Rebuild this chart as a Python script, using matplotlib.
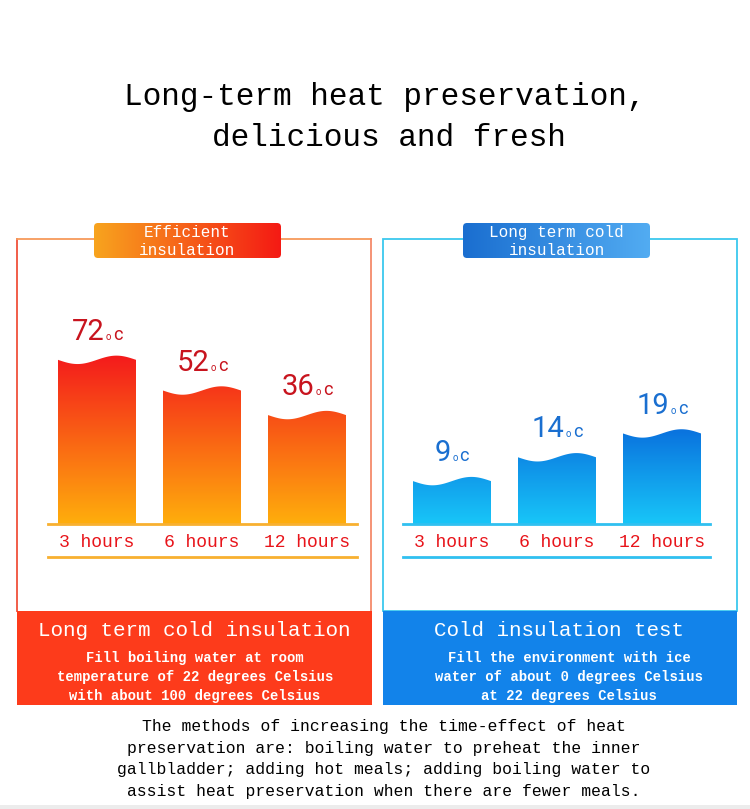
import numpy as np
import matplotlib
matplotlib.use("Agg")
import matplotlib.pyplot as plt
from matplotlib.patches import Rectangle, FancyBboxPatch, Polygon
from matplotlib.offsetbox import TextArea, HPacker, AnnotationBbox
from matplotlib.colors import LinearSegmentedColormap

# ---------------- data ----------------
hours = ["3 hours", "6 hours", "12 hours"]
hot_temps = [72, 52, 36]
cold_temps = [9, 14, 19]

title_lines = ["Long-term heat preservation,", "delicious and fresh"]
hot_header = ["Efficient", "insulation"]
cold_header = ["Long term cold", "insulation"]
hot_box_title = "Long term cold insulation"
hot_box_lines = ["Fill boiling water at room",
                 "temperature of 22 degrees Celsius",
                 "with about 100 degrees Celsius"]
cold_box_title = "Cold insulation test"
cold_box_lines = ["Fill the environment with ice",
                  "water of about 0 degrees Celsius",
                  "at 22 degrees Celsius"]
footer_lines = ["The methods of increasing the time-effect of heat",
                "preservation are: boiling water to preheat the inner",
                "gallbladder; adding hot meals; adding boiling water to",
                "assist heat preservation when there are fewer meals."]

MONO = ["Liberation Mono", "DejaVu Sans Mono"]
NUMF = ["Roboto", "DejaVu Sans"]
W, H = 750, 809
fig = plt.figure(figsize=(W / 100, H / 100), dpi=100)
fig.patch.set_facecolor("white")

bg = fig.add_axes([0, 0, 1, 1])
bg.set_xlim(0, W)
bg.set_ylim(H, 0)
bg.axis("off")


def hgrad(ax, x0, x1, y0, y1, c0, c1, clip):
    cm = LinearSegmentedColormap.from_list("g", [c0, c1])
    arr = np.linspace(0, 1, 256).reshape(1, -1)
    im = ax.imshow(arr, cmap=cm, extent=(x0, x1, y1, y0), aspect="auto",
                   interpolation="bicubic", zorder=3)
    im.set_clip_path(clip)


# Title
bg.text(385, 97, title_lines[0], ha="center", va="center", fontsize=22.4,
        family=MONO, color="black")
bg.text(389, 138, title_lines[1], ha="center", va="center", fontsize=22.4,
        family=MONO, color="black")

# Panel borders
bg.plot([17, 17], [239, 611], color="#f0503c", lw=1.3, zorder=1)
bg.plot([17, 371], [239, 239], color="#f79a5a", lw=1.3, zorder=1)
bg.plot([371, 371], [239, 611], color="#f58a6a", lw=1.3, zorder=1)
bg.add_patch(Rectangle((383, 239), 354, 372, fill=False, ec="#3cc8ee", lw=1.3, zorder=1))

# Header boxes
for (x0, x1, c0, c1, lines) in [(94, 281, "#f8a41e", "#f41a14", hot_header),
                                (463, 650, "#1a6ed0", "#52acf2", cold_header)]:
    box = FancyBboxPatch((x0, 223), x1 - x0, 35,
                         boxstyle="round,pad=0,rounding_size=4",
                         fc="white", ec="none", zorder=2)
    bg.add_patch(box)
    hgrad(bg, x0, x1, 223, 258, c0, c1, box)
    cx = (x0 + x1) / 2
    bg.text(cx, 232, lines[0], ha="center", va="center", fontsize=11.5,
            family=MONO, color="white", zorder=4)
    bg.text(cx, 250.5, lines[1], ha="center", va="center", fontsize=11.5,
            family=MONO, color="white", zorder=4)

# separator lines below the hour labels
bg.plot([48, 357], [557, 557], color="#f8b030", lw=2, zorder=2)
bg.plot([403, 710], [557, 557], color="#30c0f0", lw=2, zorder=2)

# Bottom coloured boxes
bg.add_patch(Rectangle((17, 611), 355, 94, fc="#fd3b1b", ec="none", zorder=2))
bg.add_patch(Rectangle((383, 611), 354, 94, fc="#1283ea", ec="none", zorder=2))
bg.text(194, 631, hot_box_title, ha="center", va="center", fontsize=15,
        family=MONO, color="white", zorder=4)
bg.text(559, 631, cold_box_title, ha="center", va="center", fontsize=15,
        family=MONO, color="white", zorder=4)
for i, (a, b) in enumerate(zip(hot_box_lines, cold_box_lines)):
    y = 658 + i * 18.8
    bg.text(195, y, a, ha="center", va="center", fontsize=10, weight="bold",
            family=MONO, color="white", zorder=4)
    bg.text(569, y, b, ha="center", va="center", fontsize=10, weight="bold",
            family=MONO, color="white", zorder=4)

# Footer text
for i, line in enumerate(footer_lines):
    bg.text(384, 727 + i * 21.4, line, ha="center", va="center", fontsize=11.8,
            family=MONO, color="black")

bg.add_patch(Rectangle((0, 805), W, 4, fc="#ececec", ec="none"))


# ---------------- bar panels ----------------
def panel(left_px, right_px, values, base, ymax, top_c, bot_c, line_c, num_c):
    top_px = 300
    base_px = 524
    ax = fig.add_axes([left_px / W, (H - base_px) / H,
                       (right_px - left_px) / W, (base_px - top_px) / H])
    ax.set_facecolor("none")
    x = np.arange(len(values))
    span = (right_px - left_px) / 105.0
    xl = -(49 / 105.0)
    xlim = (xl, xl + span)
    vals = np.asarray(values, dtype=float)
    bars = ax.bar(x, vals - base, bottom=base, width=78 / 105.0,
                  color="none", linewidth=0)
    amp = 4.2 / (base_px - top_px) * (ymax - base)
    cm = LinearSegmentedColormap.from_list("v", [top_c, bot_c])
    grad = np.linspace(0, 1, 256).reshape(-1, 1)
    gtop = vals.max() + amp
    for rect in bars:
        x0, w = rect.get_x(), rect.get_width()
        y0 = rect.get_y()
        top = y0 + rect.get_height()
        t = np.linspace(0, 1, 80)
        wave = top + amp * np.sin(2 * np.pi * (t - 0.5))
        pts = [(x0, y0)] + list(zip(x0 + w * t, wave)) + [(x0 + w, y0)]
        poly = Polygon(pts, closed=True, fc="none", ec="none",
                       transform=ax.transData)
        ax.add_patch(poly)
        im = ax.imshow(grad, cmap=cm, extent=(xlim[0], xlim[1], base, gtop),
                       aspect="auto", interpolation="bicubic", zorder=2)
        im.set_clip_path(poly)
        # value label
        num = TextArea(f"{int(round(top))}", textprops=dict(
            color=num_c, fontsize=21, family=NUMF))
        deg = TextArea("o", textprops=dict(color=num_c, fontsize=7, family=NUMF))
        cc = TextArea("c", textprops=dict(color=num_c, fontsize=13, family=NUMF))
        pack = HPacker(children=[num, deg, cc], align="baseline", pad=0, sep=1)
        ab = AnnotationBbox(pack, (x0 + w / 2, top), xycoords="data",
                            xybox=(0, 10), boxcoords="offset points",
                            box_alignment=(0.5, 0), frameon=False,
                            annotation_clip=False)
        ax.add_artist(ab)
    ax.set_xlim(*xlim)
    ax.set_ylim(base, ymax)
    for s in ["top", "left", "right"]:
        ax.spines[s].set_visible(False)
    ax.spines["bottom"].set_color(line_c)
    ax.spines["bottom"].set_linewidth(2)
    ax.set_yticks([])
    ax.set_xticks(x, hours)
    ax.tick_params(axis="x", length=0, pad=7, labelcolor="#e8141a", labelsize=13)
    for lab in ax.get_xticklabels():
        lab.set_family(MONO)
    return ax


panel(48, 357, hot_temps, -35, 111, "#f41a1c", "#ffae0c", "#f8b030", "#c8141e")
panel(403, 710, cold_temps, 0, 47, "#0a72de", "#18c6f8", "#30c0f0", "#1a6fd0")

fig.savefig("out.png", dpi=100, facecolor="white")
